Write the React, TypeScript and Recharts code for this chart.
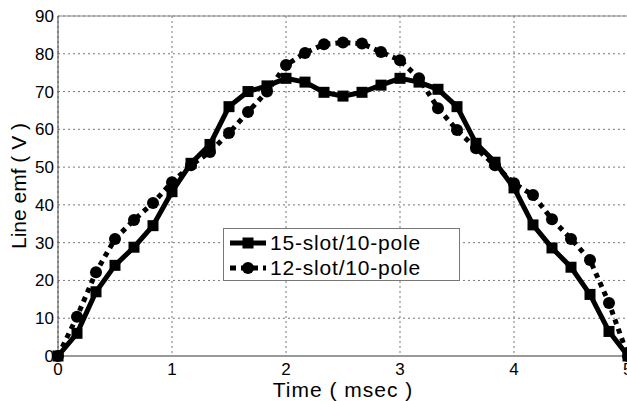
import React from "react";
import { LineChart, Line, XAxis, YAxis, CartesianGrid, ReferenceLine } from "recharts";

const times = [0, 0.1667, 0.3333, 0.5, 0.6667, 0.8333, 1, 1.1667, 1.3333, 1.5, 1.6667, 1.8333, 2, 2.1667, 2.3333, 2.5, 2.6667, 2.8333, 3, 3.1667, 3.3333, 3.5, 3.6667, 3.8333, 4, 4.1667, 4.3333, 4.5, 4.6667, 4.8333, 5];
const slot15 = [0, 6, 17, 24, 28.8, 34.5, 43.5, 51, 56, 66, 70, 71.5, 73.5, 72.5, 69.8, 68.8, 69.8, 71.7, 73.5, 72.5, 70.6, 66, 56.3, 51.3, 44.5, 34.7, 28.6, 23.5, 16.3, 6.5, 0];
const slot12 = [0, 10.4, 22.2, 31, 36, 40.5, 46, 50.5, 54, 59, 64.6, 70, 77, 80.2, 82.5, 83, 82.7, 80.5, 78.3, 73.5, 65.6, 59.8, 55, 50.5, 45.7, 42.6, 36.2, 31, 25.4, 14, 0];
const xTicks = [0, 1, 2, 3, 4, 5];
const yTicks = [0, 10, 20, 30, 40, 50, 60, 70, 80, 90];
const seriesNames = ["15-slot/10-pole", "12-slot/10-pole"];
const xLabel = "Time ( msec )";
const yLabel = "Line emf ( V )";

const data = times.map((t, i) => ({ t, a: slot15[i], b: slot12[i] }));

const FONT = "'Liberation Sans', Arial, sans-serif";

const SquareDot = (props: any) => {
  const { cx, cy, index } = props;
  if (cx == null || cy == null) return <g key={`s${index}`} />;
  return <rect key={`s${index}`} x={cx - 5.5} y={cy - 5.5} width={11} height={11} fill="#000" />;
};
const CircleDot = (props: any) => {
  const { cx, cy, index } = props;
  if (cx == null || cy == null) return <g key={`c${index}`} />;
  return <circle key={`c${index}`} cx={cx} cy={cy} r={6} fill="#000" />;
};

export default function App() {
  return (
    <div style={{ position: "absolute", left: 0, top: 0, width: 627, height: 401, overflow: "hidden", background: "#fff" }}>
      <LineChart width={632} height={401} data={data} margin={{ top: 16, right: 4, bottom: 0, left: 0 }}>
        <CartesianGrid stroke="#777" strokeDasharray="2 3" strokeWidth={1} />
        <XAxis
          dataKey="t"
          type="number"
          domain={[0, 5]}
          ticks={xTicks}
          height={45}
          tickSize={0}
          tickMargin={7}
          stroke="#999"
          strokeWidth={2}
          tick={{ fill: "#000", fontSize: 17, fontFamily: FONT }}
          label={{
            content: (p: any) => {
              const vb = p.viewBox || { x: 58, y: 356, width: 570 };
              return (
                <text x={vb.x + vb.width / 2} y={vb.y + 41} textAnchor="middle" fill="#000" fontSize={21} letterSpacing={1} fontFamily={FONT}>
                  {xLabel}
                </text>
              );
            },
          }}
        />
        <YAxis
          domain={[0, 90]}
          ticks={yTicks}
          width={58}
          tickSize={0}
          tickMargin={4}
          stroke="#444"
          tick={{ fill: "#000", fontSize: 17, fontFamily: FONT }}
          label={{
            content: (p: any) => {
              const vb = p.viewBox || { x: 0, y: 16, height: 340 };
              const cx = vb.x + 18;
              const cy = vb.y + vb.height / 2;
              return (
                <text x={cx} y={cy} transform={`rotate(-90 ${cx} ${cy})`} textAnchor="middle" dominantBaseline="central" fill="#000" fontSize={21} fontFamily={FONT}>
                  {yLabel}
                </text>
              );
            },
          }}
        />
        <ReferenceLine y={90} stroke="#888" strokeWidth={1} />
        <ReferenceLine x={5} stroke="#888" strokeWidth={1} />
        <Line
          dataKey="a"
          type="linear"
          stroke="#000"
          strokeWidth={5}
          dot={SquareDot}
          activeDot={false}
          isAnimationActive={false}
        />
        <Line
          dataKey="b"
          type="linear"
          stroke="#000"
          strokeWidth={5}
          strokeDasharray="5 5"
          dot={CircleDot}
          activeDot={false}
          isAnimationActive={false}
        />
      </LineChart>
      <div
        style={{
          position: "absolute",
          left: 223,
          top: 228,
          width: 235,
          height: 51,
          border: "1px solid #777",
          background: "#fff",
          fontFamily: FONT,
          fontSize: 21,
          color: "#000",
        }}
      >
        {seriesNames.map((name, i) => (
          <div key={name} style={{ position: "absolute", left: 0, top: i === 0 ? 2 : 27, height: 24, display: "flex", alignItems: "center" }}>
            <svg width={46} height={24} style={{ display: "block" }}>
              {i === 0 ? (
                <g>
                  <line x1={6} y1={12} x2={42} y2={12} stroke="#000" strokeWidth={5} />
                  <rect x={18.5} y={6.5} width={11} height={11} fill="#000" />
                </g>
              ) : (
                <g>
                  <line x1={6} y1={12} x2={42} y2={12} stroke="#000" strokeWidth={5} strokeDasharray="6 5" />
                  <circle cx={24} cy={12} r={6} fill="#000" />
                </g>
              )}
            </svg>
            <span style={{ lineHeight: "24px", whiteSpace: "nowrap", letterSpacing: 0.8 }}>{name}</span>
          </div>
        ))}
      </div>
    </div>
  );
}
